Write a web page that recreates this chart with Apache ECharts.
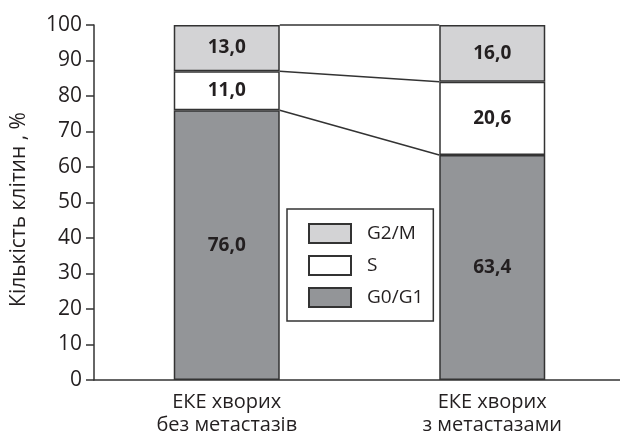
<!DOCTYPE html>
<html>
<head>
<meta charset="utf-8">
<script src="https://cdn.jsdelivr.net/npm/echarts@6/dist/echarts.min.js"></script>
<style>
  html, body { margin: 0; padding: 0; background: #fff; }
  #chart { width: 620px; height: 436px; }
</style>
</head>
<body>
<div id="chart"></div>
<script>
// Cell-cycle phase distribution (%) for two patient groups
const categories = ['ЕКЕ хворих\nбез метастазів', 'ЕКЕ хворих\nз метастазами'];
const seriesNames = ['G0/G1', 'S', 'G2/M'];
const g0g1 = [76.0, 63.4];
const sPhase = [11.0, 20.6];
const g2m = [13.0, 16.0];
const yTicks = [0, 10, 20, 30, 40, 50, 60, 70, 80, 90, 100];

const FONT = '"Open Sans", "Noto Sans", sans-serif';
const INK = '#231f20';
const EDGE = '#333333';
const BAR_W = 106;

// cumulative tops of each stacked segment, used for the connector lines
const stacks = [g0g1, sPhase, g2m];
const connectors = [];
let run = [0, 0];
stacks.forEach(arr => {
  run = [run[0] + arr[0], run[1] + arr[1]];
  connectors.push([+run[0].toFixed(1), +run[1].toFixed(1)]);
});

const fmt = v => v.toFixed(1).replace('.', ',');

function barSeries(name, data, color) {
  return {
    name: name,
    type: 'bar',
    stack: 'total',
    barWidth: BAR_W,
    data: data,
    itemStyle: { color: color, borderColor: EDGE, borderWidth: 1.5 },
    label: {
      show: true,
      position: 'inside',
      formatter: p => fmt(p.value),
      fontFamily: FONT,
      fontWeight: 'bold',
      fontSize: 19,
      color: INK
    },
    emphasis: { disabled: true },
    z: 3
  };
}

const chart = echarts.init(document.getElementById('chart'), null, { renderer: 'canvas' });
chart.setOption({
  animation: false,
  backgroundColor: '#fff',
  grid: { left: 94, top: 25, width: 531, height: 355, containLabel: false, outerBoundsMode: 'none' },
  legend: {
    data: ['G2/M', 'S', 'G0/G1'],
    orient: 'vertical',
    left: 287,
    top: 209,
    icon: 'rect',
    itemWidth: 42,
    itemHeight: 19,
    itemGap: 11,
    padding: [14, 10, 13, 21],
    borderColor: EDGE,
    borderWidth: 1.5,
    backgroundColor: '#fff',
    selectedMode: false,
    textStyle: { fontFamily: FONT, fontSize: 19, color: INK, width: 56, padding: [0, 0, 0, 11] }
  },
  xAxis: {
    type: 'category',
    data: categories,
    axisLine: { lineStyle: { color: EDGE, width: 1.5 } },
    axisTick: { show: false },
    axisLabel: { fontFamily: FONT, fontSize: 20, color: INK, lineHeight: 23, margin: 11 }
  },
  yAxis: {
    type: 'value',
    min: yTicks[0],
    max: yTicks[yTicks.length - 1],
    interval: 10,
    name: 'Кількість клітин , %',
    nameLocation: 'middle',
    nameGap: 64,
    nameRotate: 90,
    nameTextStyle: { fontFamily: FONT, fontSize: 21, color: INK, padding: [0, 0, 0, -14] },
    axisLine: { show: true, lineStyle: { color: EDGE, width: 1.5 } },
    axisTick: { show: true, length: 8, lineStyle: { color: EDGE, width: 1.5 } },
    axisLabel: { fontFamily: FONT, fontSize: 21, color: INK, margin: 12 },
    splitLine: { show: false }
  },
  series: [
    barSeries(seriesNames[0], g0g1, '#939598'),
    barSeries(seriesNames[1], sPhase, '#ffffff'),
    barSeries(seriesNames[2], g2m, '#d3d3d5'),
    {
      type: 'custom',
      name: 'connectors',
      data: connectors,
      silent: true,
      z: 2,
      renderItem: function (params, api) {
        const a = api.coord([0, api.value(0)]);
        const b = api.coord([1, api.value(1)]);
        return {
          type: 'line',
          shape: { x1: a[0] + BAR_W / 2, y1: a[1], x2: b[0] - BAR_W / 2, y2: b[1] },
          style: { stroke: EDGE, lineWidth: 1.5 }
        };
      }
    }
  ]
});
</script>
</body>
</html>
